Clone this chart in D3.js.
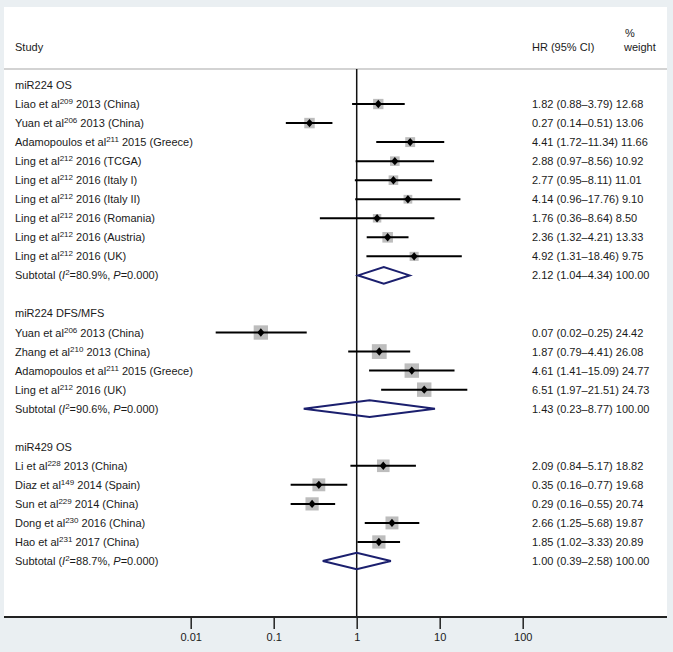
<!DOCTYPE html>
<html>
<head>
<meta charset="utf-8">
<script src="https://cdn.jsdelivr.net/npm/d3@7"></script>
<style>
  html, body { margin: 0; padding: 0; background: #eaeff2; }
  svg { display: block; }
  text { font-family: "Liberation Sans", Arial, sans-serif; font-size: 11px; fill: #1a1a1a; }
</style>
</head>
<body>
<svg id="chart" width="673" height="652"></svg>
<script>
// ---- data ----
const groupLabels = ["miR224 OS", "miR224 DFS/MFS", "miR429 OS"];
const groupSizes = [9, 4, 5];

const studyNames = [
  "Liao et al", "Yuan et al", "Adamopoulos et al", "Ling et al", "Ling et al",
  "Ling et al", "Ling et al", "Ling et al", "Ling et al",
  "Yuan et al", "Zhang et al", "Adamopoulos et al", "Ling et al",
  "Li et al", "Diaz et al", "Sun et al", "Dong et al", "Hao et al"
];
const studyRefs = [
  "209", "206", "211", "212", "212", "212", "212", "212", "212",
  "206", "210", "211", "212",
  "228", "149", "229", "230", "231"
];
const studySuffix = [
  " 2013 (China)", " 2013 (China)", " 2015 (Greece)", " 2016 (TCGA)", " 2016 (Italy I)",
  " 2016 (Italy II)", " 2016 (Romania)", " 2016 (Austria)", " 2016 (UK)",
  " 2013 (China)", " 2013 (China)", " 2015 (Greece)", " 2016 (UK)",
  " 2013 (China)", " 2014 (Spain)", " 2014 (China)", " 2016 (China)", " 2017 (China)"
];
const studyHR = [1.82, 0.27, 4.41, 2.88, 2.77, 4.14, 1.76, 2.36, 4.92,
                 0.07, 1.87, 4.61, 6.51,
                 2.09, 0.35, 0.29, 2.66, 1.85];
const studyLo = [0.88, 0.14, 1.72, 0.97, 0.95, 0.96, 0.36, 1.32, 1.31,
                 0.02, 0.79, 1.41, 1.97,
                 0.84, 0.16, 0.16, 1.25, 1.02];
const studyHi = [3.79, 0.51, 11.34, 8.56, 8.11, 17.76, 8.64, 4.21, 18.46,
                 0.25, 4.41, 15.09, 21.51,
                 5.17, 0.77, 0.55, 5.68, 3.33];
const studyWeight = ["12.68", "13.06", "11.66", "10.92", "11.01", "9.10", "8.50", "13.33", "9.75",
                     "24.42", "26.08", "24.77", "24.73",
                     "18.82", "19.68", "20.74", "19.87", "20.89"];

const subI2 = ["80.9%", "90.6%", "88.7%"];
const subP = ["0.000", "0.000", "0.000"];
const subHR = [2.12, 1.43, 1.00];
const subLo = [1.04, 0.23, 0.39];
const subHi = [4.34, 8.77, 2.58];
const subWeight = ["100.00", "100.00", "100.00"];

const tickValues = [0.01, 0.1, 1, 10, 100];
const tickLabels = ["0.01", "0.1", "1", "10", "100"];

// ---- layout ----
const svg = d3.select("#chart");
const panel = { x0: 4, y0: 7, x1: 667, y1: 617 };
const headerLineY = 69;

svg.append("rect")
  .attr("x", panel.x0).attr("y", panel.y0)
  .attr("width", panel.x1 - panel.x0).attr("height", panel.y1 - panel.y0)
  .attr("fill", "#ffffff");

const x = d3.scaleLog().domain([0.01, 100]).range([190.7, 522.7]);
const y = d3.scaleLinear().domain([0, 25]).range([85, 561]);

const fmt2 = d3.format(".2f");
function ciText(hr, lo, hi, w) {
  return fmt2(hr) + " (" + fmt2(lo) + "\u2013" + fmt2(hi) + ") " + w;
}

// build rows
const rows = [];
let ri = 0, si = 0;
groupLabels.forEach((g, gi) => {
  rows.push({ type: "head", row: ri++, label: g });
  for (let k = 0; k < groupSizes[gi]; k++, si++) {
    rows.push({ type: "study", row: ri++, i: si });
  }
  rows.push({ type: "sub", row: ri++, g: gi });
  ri++; // blank row
});

// header texts
const labelX = 15, hrX = 532, wX = 624;
svg.append("text").attr("x", labelX).attr("y", 51).text("Study");
svg.append("text").attr("x", hrX).attr("y", 51).text("HR (95% CI)");
svg.append("text").attr("x", wX + 1).attr("y", 37).text("%");
svg.append("text").attr("x", wX).attr("y", 51).text("weight");

// header line
svg.append("line")
  .attr("x1", panel.x0).attr("x2", panel.x1)
  .attr("y1", headerLineY).attr("y2", headerLineY)
  .attr("stroke", "#c4c4c4").attr("stroke-width", 1.5);

// null line at 1
svg.append("line")
  .attr("x1", x(1)).attr("x2", x(1))
  .attr("y1", headerLineY).attr("y2", panel.y1)
  .attr("stroke", "#111").attr("stroke-width", 1.5);

const base = 4; // baseline offset from row center

rows.forEach(r => {
  const cy = y(r.row);
  if (r.type === "head") {
    svg.append("text").attr("x", labelX).attr("y", cy + base).text(r.label);
  } else if (r.type === "study") {
    const i = r.i;
    const t = svg.append("text").attr("x", labelX).attr("y", cy + base);
    t.append("tspan").text(studyNames[i]);
    t.append("tspan").attr("dy", -4).style("font-size", "8px").text(studyRefs[i]);
    t.append("tspan").attr("dy", 4).text(studySuffix[i]);

    svg.append("text").attr("x", hrX).attr("y", cy + base)
      .text(ciText(studyHR[i], studyLo[i], studyHi[i], studyWeight[i]));

    // box (area ~ weight)
    const s = 2.9 * Math.sqrt(+studyWeight[i]);
    svg.append("rect")
      .attr("x", x(studyHR[i]) - s / 2).attr("y", cy - s / 2)
      .attr("width", s).attr("height", s)
      .attr("fill", "#bdbdbd");
    // CI line
    svg.append("line")
      .attr("x1", x(studyLo[i])).attr("x2", x(studyHi[i]))
      .attr("y1", cy).attr("y2", cy)
      .attr("stroke", "#000").attr("stroke-width", 2);
    // point diamond
    const px = x(studyHR[i]), d = 3.6;
    svg.append("path")
      .attr("d", `M${px - d},${cy}L${px},${cy - d - 0.6}L${px + d},${cy}L${px},${cy + d + 0.6}Z`)
      .attr("fill", "#000");
  } else {
    const g = r.g;
    const t = svg.append("text").attr("x", labelX).attr("y", cy + base);
    t.append("tspan").text("Subtotal (");
    t.append("tspan").style("font-style", "italic").text("I");
    t.append("tspan").attr("dy", -4).style("font-size", "8px").text("2");
    t.append("tspan").attr("dy", 4).text("=" + subI2[g] + ", ");
    t.append("tspan").style("font-style", "italic").text("P");
    t.append("tspan").text("=" + subP[g] + ")");

    svg.append("text").attr("x", hrX).attr("y", cy + base)
      .text(ciText(subHR[g], subLo[g], subHi[g], subWeight[g]));

    const h = 8.3;
    svg.append("path")
      .attr("d", `M${x(subLo[g])},${cy}L${x(subHR[g])},${cy - h}L${x(subHi[g])},${cy}L${x(subHR[g])},${cy + h}Z`)
      .attr("fill", "none")
      .attr("stroke", "#1b1f6e").attr("stroke-width", 2)
      .attr("stroke-linejoin", "miter");
  }
});

// bottom axis
svg.append("line")
  .attr("x1", panel.x0).attr("x2", panel.x1)
  .attr("y1", panel.y1).attr("y2", panel.y1)
  .attr("stroke", "#222").attr("stroke-width", 2);

const axis = d3.axisBottom(x)
  .tickValues(tickValues)
  .tickSize(12)
  .tickPadding(4)
  .tickFormat((d, i) => tickLabels[i]);

const ag = svg.append("g")
  .attr("transform", `translate(0,${panel.y1})`)
  .call(axis);
ag.select(".domain").remove();
ag.selectAll(".tick line").attr("stroke", "#222").attr("stroke-width", 1.5);
ag.selectAll(".tick text")
  .attr("fill", "#222")
  .style("font-family", "\"Liberation Sans\", Arial, sans-serif")
  .style("font-size", "11px");
</script>
</body>
</html>
